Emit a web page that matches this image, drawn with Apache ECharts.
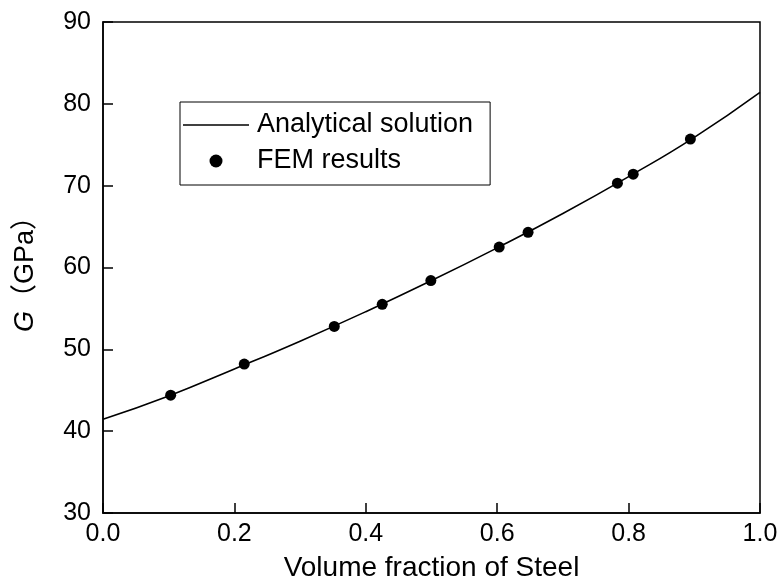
<!DOCTYPE html>
<html>
<head>
<meta charset="utf-8">
<script src="https://cdn.jsdelivr.net/npm/echarts@6/dist/echarts.min.js"></script>
<style>
  html, body { margin: 0; padding: 0; background: #fff; }
  #chart { width: 782px; height: 587px; }
</style>
</head>
<body>
<div id="chart"></div>
<script>
// Shear modulus G of the composite versus steel volume fraction
const curveFraction = [0.0, 0.1, 0.2, 0.3, 0.4, 0.5, 0.6, 0.7, 0.8, 0.9, 1.0];
const curveModulus = [41.45, 44.3, 47.6, 51.0, 54.6, 58.4, 62.4, 66.6, 71.1, 75.9, 81.4];

const femFraction = [0.103, 0.215, 0.352, 0.425, 0.499, 0.603, 0.647, 0.783, 0.807, 0.894];
const femModulus = [44.4, 48.2, 52.8, 55.5, 58.4, 62.5, 64.3, 70.3, 71.4, 75.7];

const xTicks = { min: 0, max: 1, interval: 0.2 };
const yTicks = { min: 30, max: 90, interval: 10 };

const FONT = '"Liberation Sans", Arial, "Noto Sans CJK SC", sans-serif';

const chart = echarts.init(document.getElementById('chart'), null, { renderer: 'canvas' });

chart.setOption({
  backgroundColor: '#fff',
  animation: false,
  grid: {
    left: 103, right: 22, top: 22, bottom: 74,
    show: true, borderColor: '#000', borderWidth: 1.5, backgroundColor: 'transparent'
  },
  legend: {
    left: 180, top: 102,
    orient: 'vertical',
    itemWidth: 66, itemHeight: 13, itemGap: 6,
    padding: [8, 17, 9, 3],
    borderColor: '#000', borderWidth: 1,
    textStyle: { fontFamily: FONT, fontSize: 27, color: '#000', lineHeight: 30, padding: [0, 0, 0, 3] },
    data: [
      { name: 'Analytical solution', icon: 'path://M0,0 L66,0 L66,1.6 L0,1.6 Z', itemStyle: { color: '#000' } },
      { name: 'FEM results', icon: 'circle', itemStyle: { color: '#000', opacity: 1 } }
    ]
  },
  xAxis: {
    type: 'value',
    min: xTicks.min, max: xTicks.max, interval: xTicks.interval,
    name: 'Volume fraction of Steel',
    nameLocation: 'middle', nameGap: 41,
    nameTextStyle: { fontFamily: FONT, fontSize: 28, color: '#000' },
    axisLine: { lineStyle: { color: '#000', width: 1.5 } },
    axisTick: { inside: true, length: 10, lineStyle: { color: '#000', width: 1.5 } },
    axisLabel: {
      fontFamily: FONT, fontSize: 25, color: '#000', margin: 9,
      formatter: v => v.toFixed(1)
    },
    splitLine: { show: false }
  },
  yAxis: {
    type: 'value',
    min: yTicks.min, max: yTicks.max, interval: yTicks.interval,
    name: '{i|G}（GPa）',
    nameLocation: 'middle', nameRotate: 90, nameGap: 64,
    nameTextStyle: {
      fontFamily: FONT, fontSize: 27, color: '#000',
      rich: { i: { fontFamily: FONT, fontSize: 27, fontStyle: 'italic', color: '#000' } }
    },
    axisLine: { lineStyle: { color: '#000', width: 1.5 } },
    axisTick: { inside: true, length: 10, lineStyle: { color: '#000', width: 1.5 } },
    axisLabel: { fontFamily: FONT, fontSize: 25, color: '#000', margin: 12 },
    splitLine: { show: false }
  },
  series: [
    {
      name: 'Analytical solution',
      type: 'line',
      smooth: true,
      symbol: 'none',
      showSymbol: false,
      lineStyle: { color: '#000', width: 1.6 },
      itemStyle: { color: '#000' },
      data: curveFraction.map((x, i) => [x, curveModulus[i]]),
      z: 2
    },
    {
      name: 'FEM results',
      type: 'scatter',
      symbol: 'circle',
      symbolSize: 11,
      itemStyle: { color: '#000', opacity: 1 },
      data: femFraction.map((x, i) => [x, femModulus[i]]),
      z: 3
    }
  ]
});
</script>
</body>
</html>
